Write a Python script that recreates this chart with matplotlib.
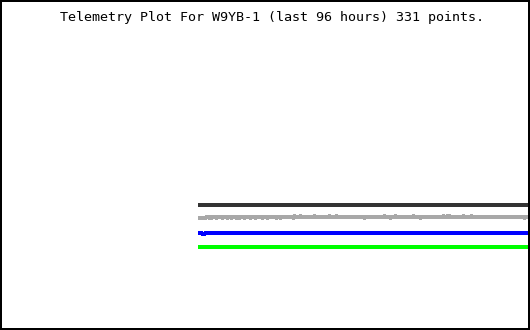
import matplotlib
matplotlib.use("Agg")
import matplotlib.pyplot as plt
import numpy as np

title = "Telemetry Plot For W9YB-1 (last 96 hours) 331 points."

n_points = 331
# channel levels (arbitrary telemetry units)
ch1_level = 125.0   # dark grey
ch3_level = 97.0    # blue
ch4_level = 83.0    # green
ch2_base = 113.0    # light grey, small jitter

# jitter: '1' = base, '0' = one unit lower, '2' = one unit higher
ch2_pattern = (
    "0000000011" "1010111101" "1111011110" "1110111101" "1011110111"
    "1101111011" "1111011110" "1111111101" "1101111111" "1111102111"
    "1121111111" "1111112111" "1111111111" "1211111121" "1111111111"
    "1111111111" "1111110111" "1111111111" "1111112111" "1101111211"
    "1111111111" "1111121111" "1101111111" "1111111111" "1111121112"
    "1211111111" "1111121111" "1112111111" "1111111111" "1111111111"
    "1111111111" "1111111111" "1111110111" "1111111101" "1011110111"
    "1111111111" "1111111111" "1111110111" "1111011111" "1101101111"
    "1111111111" "1111111111" "1111111111" "1111111111" "1111111111"
    "1111111011" "1101111111" "1111111111" "1111011111" "0111110111"
    "1011110111" "1111101111" "1011111011" "1111111111" "1101111111"
    "1111111111" "1111111111" "1111111111" "1101011011" "1111011011"
    "1011110111" "1111011101" "1101111011" "1111011110" "1110110111"
    "111101"
)
ch2_values = [ch2_base + int(c) - 1 for c in ch2_pattern[:n_points]]
ch1_values = [ch1_level] * n_points
ch3_values = [ch3_level] * n_points
ch3_values[4] = ch3_level - 1
ch3_values[5] = ch3_level - 1
ch3_values[6] = ch3_level - 1
ch4_values = [ch4_level] * n_points

W, H = 530, 330
fig = plt.figure(figsize=(W / 100, H / 100), dpi=100)
ax = fig.add_axes([0, 0, 1, 1])
ax.set_xlim(-198.5, 331.5)
ax.set_ylim(0, 330)
ax.set_xticks([])
ax.set_yticks([])
for s in ax.spines.values():
    s.set_linewidth(2.88)
    s.set_color("black")

x = np.arange(n_points)
lw = 1.8
kw = dict(lw=lw, antialiased=False, snap=False, solid_capstyle="butt")
ax.plot(x, ch1_values, color="#333333", **kw)
ax.plot(x, ch2_values, color="#a8a8a8", **kw)
ax.plot(x, ch3_values, color="#0000ff", **kw)
ax.plot(x, ch4_values, color="#00ff00", **kw)

fig.text(271.5 / W, 1 - 18 / H, title, ha="center", va="center",
         family="DejaVu Sans Mono", fontsize=9.6, color="black")

fig.savefig("out.png", dpi=100)
